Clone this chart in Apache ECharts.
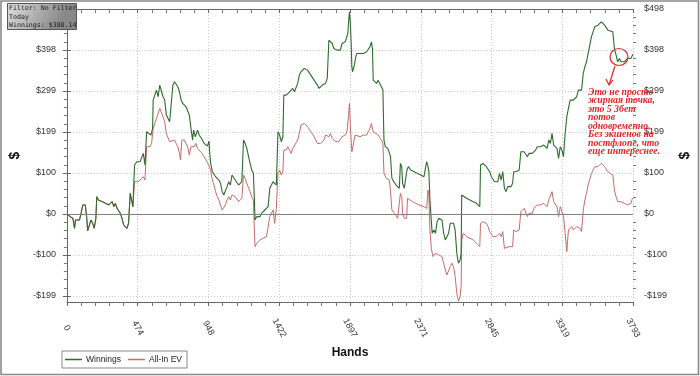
<!DOCTYPE html>
<html>
<head>
<meta charset="utf-8">
<script src="https://cdn.jsdelivr.net/npm/echarts@6/dist/echarts.min.js"></script>
<style>
  html, body { margin: 0; padding: 0; background: #fff; }
  #chart { width: 700px; height: 376px; }
</style>
</head>
<body>
<div id="chart"></div>
<script>
// [hand, $] pairs
const winnings = [
  [0,0],[22,-6.5],[40,-10.5],[51,-34.8],[57,-14.6],[84,-14.6],[95,1.6],[106,21.9],[123,21.9],[132,-6.5],
  [139,-41.2],[150,-38.8],[161,-14.6],[172,-22.6],[183,-34.8],[194,-10.5],[200,42.1],[211,34],[237,30],[259,25.9],
  [281,21.9],[303,30],[314,17.8],[325,25.9],[336,13.8],[358,1.6],[369,-10.5],[380,-26.7],[402,-34.8],[413,-22.6],
  [420,-26.7],[424,50.2],[435,50.2],[442,17.8],[449,13.8],[453,118.9],[468,127],[490,127],[501,131.1],[512,147.3],
  [523,118.9],[534,199.9],[545,195.8],[563,191.8],[574,207.9],[578,276.7],[589,280.7],[600,301],[611,284.8],[622,313.1],
  [633,313.1],[644,284.8],[655,276.7],[666,240.3],[677,236.3],[688,224.1],[699,224.1],[710,313.1],[721,321.2],[732,317.2],
  [743,309.1],[754,296.9],[765,276.7],[776,268.6],[787,272.6],[798,260.5],[809,264.6],[820,240.3],[831,207.9],[842,179.6],
  [849,203.9],[860,187.7],[875,203.9],[886,191.8],[908,179.6],[919,171.5],[941,165],[952,177],[956,151.3],[963,123],
  [974,102.8],[985,98.7],[996,90.6],[1007,86.6],[1018,82.5],[1029,74.5],[1040,54.2],[1051,46.1],[1062,50.2],[1073,66.4],
  [1084,78.5],[1095,70.4],[1106,94.7],[1117,90.6],[1128,82.5],[1139,78.5],[1150,70.4],[1161,74.5],[1172,78.5],[1183,179.6],
  [1194,171.5],[1205,159.4],[1216,155.3],[1227,123],[1238,106.8],[1249,98.7],[1256,34],[1260,-14.6],[1271,-6.5],[1282,-2.4],
  [1293,-6.5],[1304,1.6],[1315,5.7],[1326,9.7],[1337,13.8],[1348,17.8],[1359,62.3],[1370,66.4],[1381,78.5],[1392,82.5],
  [1403,70.4],[1414,199.9],[1425,191.8],[1436,175.6],[1447,187.7],[1453,288.8],[1469,288.8],[1480,292.9],[1491,296.9],[1502,301],
  [1513,305],[1524,296.9],[1535,301],[1546,317.2],[1557,337.4],[1568,345.5],[1579,349.5],[1590,353.6],[1601,357.6],[1612,349.5],
  [1623,345.5],[1634,337.4],[1645,333.3],[1656,325.2],[1667,321.2],[1678,313.1],[1689,305],[1700,301],[1711,313.1],[1722,317.2],
  [1733,317.2],[1744,329.3],[1755,422.3],[1766,418.3],[1777,414.2],[1788,402.1],[1799,398.1],[1810,398.1],[1821,394],[1832,398.1],
  [1843,414.2],[1854,418.3],[1865,418.3],[1876,422.3],[1882,438.5],[1887,466.8],[1893,491.1],[1898,470.9],[1904,418],[1909,357.6],
  [1913,345.5],[1926,361.6],[1935,381.9],[1942,390],[1964,390],[1986,390],[2008,394],[2019,398.1],[2030,406.1],[2040,418.3],
  [2047,402.1],[2052,325.2],[2062,321.2],[2074,317.2],[2085,325.2],[2096,317.2],[2107,309.1],[2117,301],[2124,179.6],[2133,163.4],
  [2150,159.4],[2161,163.4],[2168,139.2],[2177,86.6],[2190,78.5],[2205,70.4],[2216,66.4],[2227,62.3],[2234,123],[2243,114.9],
  [2249,74.5],[2260,62.3],[2271,62.3],[2278,106.8],[2287,114.9],[2304,106.8],[2326,102.8],[2348,98.7],[2370,94.7],[2392,90.6],
  [2403,94.7],[2410,127],[2419,114.9],[2425,102.8],[2432,34],[2441,-14.6],[2447,-46.9],[2458,-38.8],[2469,-46.9],[2480,-18.6],
  [2491,-10.5],[2502,-6.5],[2513,-14.6],[2524,-46.9],[2535,-63.1],[2546,-63.1],[2557,-46.9],[2568,-22.6],[2579,-18.6],[2590,-22.6],
  [2601,-38.8],[2612,-95.4],[2623,-119.7],[2634,-111.6],[2641,-95.4],[2645,46.1],[2656,42.1],[2678,38.1],[2700,34],[2722,30],
  [2744,25.9],[2766,17.8],[2771,118.9],[2788,123],[2799,118.9],[2810,114.9],[2821,110.9],[2832,102.8],[2843,90.6],[2854,86.6],
  [2865,78.5],[2876,82.5],[2887,78.5],[2898,98.7],[2909,82.5],[2920,102.8],[2931,62.3],[2942,54.2],[2953,66.4],[2964,70.4],
  [2975,66.4],[2986,74.5],[2993,102.8],[3008,102.8],[3030,106.8],[3041,151.3],[3052,147.3],[3063,151.3],[3074,155.3],[3085,139.2],
  [3096,147.3],[3107,143.2],[3118,147.3],[3129,151.3],[3140,155.3],[3151,163.4],[3162,167.5],[3173,163.4],[3184,159.4],[3195,167.5],
  [3206,163.4],[3217,159.4],[3228,179.6],[3239,171.5],[3250,195.8],[3261,167.5],[3272,163.4],[3283,159.4],[3294,135.2],[3305,163.4],
  [3316,155.3],[3327,139.2],[3333,171.5],[3338,195.8],[3349,236.3],[3360,240.3],[3371,276.7],[3382,280.7],[3393,276.7],[3404,280.7],
  [3415,284.8],[3426,301],[3437,305],[3448,301],[3459,341.4],[3470,357.6],[3481,369.7],[3492,390],[3503,394],[3514,430.4],
  [3525,434.5],[3536,454.7],[3547,458.7],[3558,458.7],[3569,462.8],[3580,466.8],[3591,466.8],[3602,458.7],[3613,454.7],[3624,446.6],
  [3635,442.5],[3657,442.5],[3668,402.1],[3679,385.9],[3690,369.7],[3701,377.8],[3712,369.7],[3723,373.8],[3734,369.7],[3745,369.7],
  [3756,377.8],[3767,373.8],[3778,377.8],[3789,385.9],[3793,388.1]
];

const allInEv = [
  [0,0],[22,-6.5],[40,-10.5],[51,-34.8],[57,-14.6],[84,-14.6],[95,1.6],[106,21.9],[123,21.9],[132,-6.5],
  [139,-41.2],[150,-38.8],[161,-14.6],[172,-22.6],[183,-34.8],[194,-10.5],[200,42.1],[211,34],[237,30],[259,25.9],
  [281,21.9],[303,30],[314,17.8],[325,25.9],[336,13.8],[358,1.6],[369,-10.5],[380,-26.7],[402,-34.8],[413,-22.6],
  [420,-26.7],[424,50.2],[435,50.2],[442,17.8],[449,13.8],[453,78.5],[475,78.5],[490,82.5],[501,78.5],[512,90.6],
  [523,82.5],[534,163.4],[545,167.5],[557,163.4],[567,171.5],[578,207.9],[600,232.2],[611,228.2],[622,256.5],[633,256.5],
  [644,236.3],[655,224.1],[666,195.8],[677,191.8],[688,175.6],[699,179.6],[721,179.6],[732,171.5],[743,163.4],[754,147.3],
  [761,131.1],[770,179.6],[787,179.6],[798,171.5],[809,163.4],[820,143.2],[831,163.4],[842,167.5],[853,163.4],[864,171.5],
  [875,159.4],[886,155.3],[897,151.3],[908,147.3],[919,139.2],[941,125],[952,125],[963,106.8],[974,82.5],[985,70.4],
  [996,54.2],[1007,42.1],[1018,34],[1029,30],[1040,9.7],[1051,5.7],[1062,21.9],[1073,34],[1084,42.1],[1095,34],
  [1106,46.1],[1117,50.2],[1128,42.1],[1139,38.1],[1150,30],[1161,34],[1172,38.1],[1183,94.7],[1194,86.6],[1205,74.5],
  [1216,70.4],[1227,54.2],[1238,42.1],[1249,34],[1256,-38.8],[1260,-79.3],[1271,-71.2],[1282,-67.1],[1293,-63.1],[1304,-67.1],
  [1315,-59],[1326,-59],[1337,-55],[1348,-59],[1359,-6.5],[1370,-2.4],[1381,9.7],[1392,-22.6],[1403,13.8],[1414,98.7],
  [1425,106.8],[1436,94.7],[1447,102.8],[1453,155.3],[1469,155.3],[1480,163.4],[1491,159.4],[1502,147.3],[1513,159.4],[1524,163.4],
  [1546,179.6],[1557,195.8],[1568,216.1],[1579,220.1],[1590,220.1],[1601,216.1],[1612,212],[1623,208],[1634,199.9],[1645,195.8],
  [1656,187.7],[1667,179.6],[1678,171.5],[1689,167.5],[1700,171.5],[1711,175.6],[1722,179.6],[1733,191.8],[1744,195.8],[1755,187.7],
  [1766,195.8],[1777,183.6],[1788,179.6],[1799,175.6],[1810,171.5],[1821,175.6],[1832,171.5],[1843,187.7],[1854,191.8],[1865,191.8],
  [1876,199.9],[1887,240.3],[1893,268.6],[1898,220.1],[1904,179.6],[1909,151.3],[1920,147.3],[1931,191.8],[1942,187.7],[1964,187.7],
  [1986,191.8],[2008,191.8],[2019,199.9],[2030,208],[2040,220.1],[2052,199.9],[2062,195.8],[2085,191.8],[2096,187.7],[2107,179.6],
  [2117,171.5],[2124,98.7],[2140,86.6],[2161,82.5],[2168,54.2],[2177,9.7],[2194,1.6],[2216,-10.5],[2227,-14.6],[2234,50.2],
  [2243,42.1],[2249,1.6],[2260,-10.5],[2276,-10.5],[2282,38.1],[2293,42.1],[2315,30],[2337,25.9],[2359,21.9],[2392,17.8],
  [2410,13.8],[2419,58.3],[2425,42.1],[2432,-38.8],[2441,-83.3],[2452,-103.5],[2469,-95.4],[2480,-91.4],[2491,-99.4],[2502,-95.4],
  [2513,-103.5],[2524,-119.7],[2535,-135.9],[2546,-148],[2557,-144],[2568,-127.8],[2579,-119.7],[2590,-127.8],[2601,-152.1],[2612,-192.5],
  [2623,-212],[2634,-200.6],[2641,-176.3],[2645,-63.1],[2656,-46.9],[2678,-55],[2700,-59],[2722,-63.1],[2744,-71.2],[2766,-79.3],
  [2771,-22.6],[2788,-18.6],[2810,-22.6],[2821,-30.6],[2832,-42.8],[2854,-55],[2865,-59],[2876,-55],[2887,-59],[2898,-46.9],
  [2909,-55],[2920,-42.8],[2931,-83.3],[2942,-79.3],[2964,-79.3],[2975,-83.3],[2986,-79.3],[2993,-38.8],[3008,-42.8],[3030,-38.8],
  [3041,5.7],[3052,5.7],[3063,13.8],[3074,9.7],[3085,-6.5],[3096,1.6],[3107,5.7],[3118,1.6],[3129,13.8],[3140,17.8],
  [3151,21.9],[3162,25.9],[3173,21.9],[3184,17.8],[3195,25.9],[3206,21.9],[3217,17.8],[3228,34],[3239,30],[3250,54.2],
  [3261,30],[3272,25.9],[3283,17.8],[3294,-6.5],[3305,17.8],[3316,13.8],[3327,-6.5],[3338,-46.9],[3349,-91.4],[3360,-38.8],
  [3371,-34.8],[3382,-30.6],[3393,-38.8],[3404,-34.8],[3415,-30.6],[3426,-34.8],[3437,-34.8],[3448,-42.8],[3459,9.7],[3470,34],
  [3481,50.2],[3492,70.4],[3503,74.5],[3514,98.7],[3525,106.8],[3536,114.9],[3547,118.9],[3558,114.9],[3569,118.9],[3580,123],
  [3591,123],[3602,114.9],[3613,110.9],[3624,102.8],[3635,98.7],[3657,94.7],[3668,58.3],[3679,42.1],[3690,30],[3701,34],
  [3712,30],[3734,25.9],[3745,25.9],[3756,21.9],[3767,21.9],[3778,25.9],[3789,38.1],[3793,38.1]
];

const yTicks = [-199.2, -99.6, 0, 99.6, 199.2, 298.8, 398.4, 498];
const yTickLabels = ['-$199', '-$100', '$0', '$100', '$199', '$299', '$398', '$498'];
const handsMax = 3793;
const infoLines = ['Filter: No Filter', 'Today', 'Winnings: $388.14'];
const noteLines = ['Это не просто', 'жирная точка,', 'это 5 3бет', 'потов', 'одновременно.', 'Без экшенов на', 'постфлопе, что', 'еще интереснее.'];

const yMin = -213.8, yMax = 498;
const yMinor = [];
for (let i = 0; i < yTicks.length - 1; i++) {
  for (let k = 1; k < 5; k++) yMinor.push(yTicks[i] + (yTicks[i + 1] - yTicks[i]) * k / 5);
}

const labelFont = "'Liberation Sans', Arial, sans-serif";
const yLabel = (v) => {
  const i = yTicks.findIndex((t) => Math.abs(t - v) < 1);
  return i < 0 ? '' : yTickLabels[i];
};

const chart = echarts.init(document.getElementById('chart'));

const yMain = (pos) => ({
  type: 'value', position: pos, min: yMin, max: yMax,
  axisLine: { show: true, lineStyle: { color: '#666' } },
  axisTick: { show: true, customValues: yTicks, length: 4, lineStyle: { color: '#666' } },
  axisLabel: { customValues: yTicks, formatter: yLabel, fontSize: 9, color: '#333', margin: 11, fontFamily: labelFont },
  splitLine: { show: pos === 'left', lineStyle: { color: '#c8c8c8', type: [1, 2] } },
  name: '$', nameLocation: 'middle', nameRotate: 90, nameGap: pos === 'left' ? 35 : 44,
  nameTextStyle: { fontSize: 14, fontWeight: 'bold', color: '#111' }
});
const yMinorAxis = (pos) => ({
  type: 'value', position: pos, min: yMin, max: yMax,
  axisLine: { show: false },
  axisTick: { show: true, customValues: yMinor, length: 3, lineStyle: { color: '#777' } },
  axisLabel: { show: false },
  splitLine: { show: false }
});

const xBase = {
  type: 'value', min: 0, max: handsMax, interval: handsMax / 8,
  axisLine: { show: true, onZero: false, lineStyle: { color: '#666' } },
  axisTick: { show: true, length: 4, lineStyle: { color: '#666' } },
  minorTick: { show: true, splitNumber: 5, length: 4, lineStyle: { color: '#777' } }
};

const option = {
  backgroundColor: '#fff',
  animation: false,
  grid: { left: 62, right: 63, top: 9, bottom: 74 },
  xAxis: [
    Object.assign({}, xBase, {
      position: 'bottom',
      axisLabel: {
        rotate: -62, align: 'center', verticalAlign: 'middle', margin: 26,
        fontSize: 9, color: '#333', fontFamily: labelFont,
        formatter: (v) => String(Math.round(v))
      },
      splitLine: { show: true, lineStyle: { color: '#c8c8c8', type: [1, 2] } },
      name: 'Hands', nameLocation: 'middle', nameGap: 35,
      nameTextStyle: { fontSize: 12, fontWeight: 'bold', color: '#111' }
    }),
    Object.assign({}, xBase, {
      position: 'top',
      axisTick: { show: true, inside: true, length: 4, lineStyle: { color: '#666' } },
      minorTick: { show: true, splitNumber: 5, length: 4, lineStyle: { color: '#777' } },
      axisLabel: { show: false },
      splitLine: { show: false }
    })
  ],
  yAxis: [yMain('left'), yMain('right'), yMinorAxis('left'), yMinorAxis('right')],
  legend: {
    data: ['Winnings', 'All-In EV'],
    left: 62, top: 351,
    orient: 'horizontal',
    icon: 'rect',
    itemWidth: 17, itemHeight: 1.5, itemGap: 7,
    padding: [4, 5, 4, 3],
    borderColor: '#888', borderWidth: 1, borderRadius: 0,
    backgroundColor: '#fff',
    textStyle: { fontSize: 8.5, color: '#222', fontFamily: labelFont, padding: [0, 0, 0, -1] }
  },
  series: [
    {
      name: 'zero', type: 'line', data: [], z: 1, silent: true,
      markLine: {
        silent: true, symbol: 'none', label: { show: false },
        lineStyle: { color: '#808080', type: 'solid', width: 1 },
        data: [{ yAxis: 0 }]
      }
    },
    {
      name: 'All-In EV', type: 'line', data: allInEv, symbol: 'none', z: 2,
      lineStyle: { color: '#c96a6a', width: 1 }, itemStyle: { color: '#c96a6a' }
    },
    {
      name: 'Winnings', type: 'line', data: winnings, symbol: 'none', z: 3,
      lineStyle: { color: '#2f6a2f', width: 1.1 }, itemStyle: { color: '#2f6a2f' }
    }
  ],
  graphic: [
    {
      type: 'rect', silent: true, z: 100,
      shape: { x: 1, y: 1, width: 697.5, height: 373.5 },
      style: { fill: 'none', stroke: '#8a8a8a', lineWidth: 1.6 }
    },
    {
      type: 'rect', z: 100, zlevel: 1,
      shape: { x: 7.5, y: 3.5, width: 69, height: 26 },
      style: {
        fill: new echarts.graphic.LinearGradient(0, 0, 0.7, 1, [
          { offset: 0, color: '#e0e0e0' }, { offset: 1, color: '#888888' }
        ]),
        stroke: '#555', lineWidth: 1
      }
    },
    {
      type: 'text', z: 101, zlevel: 1, x: 9, y: 4.5,
      style: {
        text: infoLines.join('\n'), fill: '#1a1a1a',
        font: "6.6px 'DejaVu Sans Mono', monospace", lineHeight: 8.3
      }
    },
    {
      type: 'text', left: 588, top: 87, z: 100,
      style: {
        text: noteLines.join('\n'), fill: '#e02828',
        font: "italic bold 9.8px 'Liberation Serif', serif", lineHeight: 8.5
      }
    },
    {
      type: 'ellipse', z: 100,
      shape: { cx: 619, cy: 57, rx: 9, ry: 8.5 },
      style: { fill: 'none', stroke: '#e02828', lineWidth: 1.2 }
    },
    {
      type: 'polyline', z: 100,
      shape: { points: [[615, 66], [609, 85]] },
      style: { stroke: '#e02828', lineWidth: 1.2, fill: 'none' }
    },
    {
      type: 'polyline', z: 100,
      shape: { points: [[606, 79], [609, 85], [613, 80]] },
      style: { stroke: '#e02828', lineWidth: 1.2, fill: 'none' }
    }
  ]
};

chart.setOption(option);
</script>
</body>
</html>
